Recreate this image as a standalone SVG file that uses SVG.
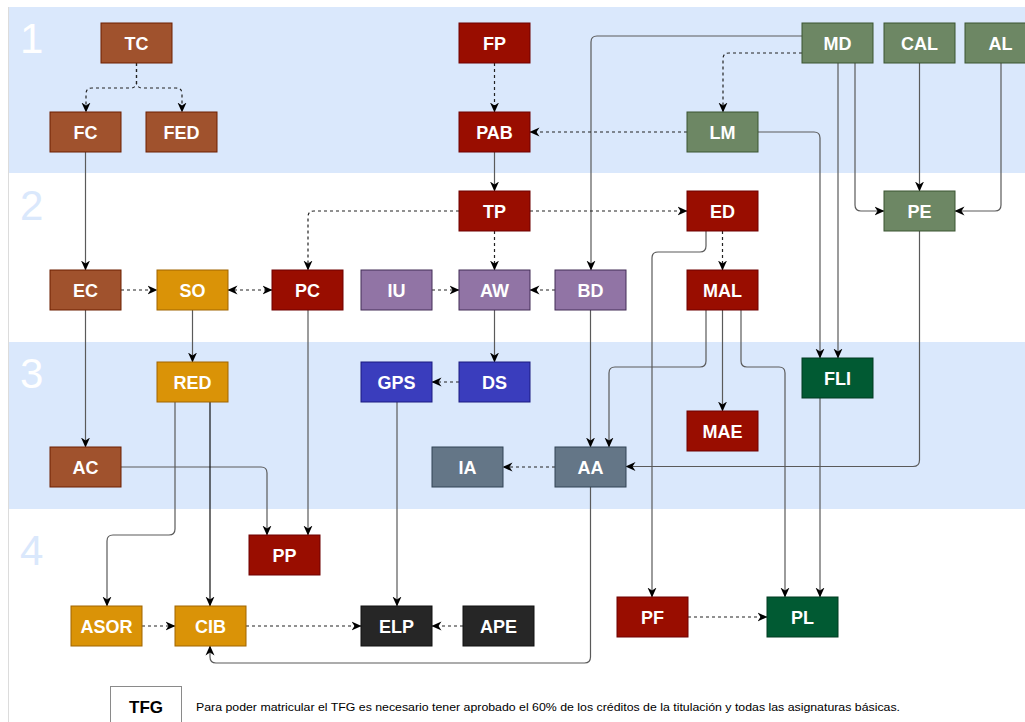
<svg xmlns="http://www.w3.org/2000/svg" width="1025" height="722" viewBox="0 0 1025 722">
<style>
.band{fill:#dae8fc}
.num{font-family:"Liberation Sans",Arial,sans-serif;font-size:42px}
.n rect{stroke-width:1}
.n text{font-family:"Liberation Sans",Arial,sans-serif;font-size:18px;font-weight:bold;fill:#fff;text-anchor:middle}
.br rect{fill:#a0522d;stroke:#6d1f00}
.rd rect{fill:#990d00;stroke:#6f0000}
.or rect{fill:#da9307;stroke:#a06400}
.pu rect{fill:#9174a5;stroke:#432d57}
.bl rect{fill:#3a3dbd;stroke:#1a1a80}
.gb rect{fill:#647687;stroke:#314354}
.gr rect{fill:#6d8764;stroke:#3a5431}
.dg rect{fill:#015a33;stroke:#003a20}
.bk rect{fill:#262626;stroke:#111}
.s{fill:none;stroke:#5a5a5a;stroke-width:1.2;marker-end:url(#a)}
.d{fill:none;stroke:#222;stroke-width:1.2;stroke-dasharray:3 3;marker-end:url(#a)}
</style>
<defs>
<marker id="a" viewBox="0 0 10 10" refX="9.5" refY="5" markerWidth="10" markerHeight="10" markerUnits="userSpaceOnUse" orient="auto-start-reverse"><path d="M0,0.5 L10,5 L0,9.5 L3,5 Z" fill="#000"/></marker>
</defs>
<rect width="1025" height="722" fill="#fff"/>
<g id="bands">
<rect class="band" x="8" y="7" width="1017" height="166"/>
<rect class="band" x="8" y="342" width="1017" height="167"/>
<line x1="8.5" y1="7" x2="8.5" y2="722" stroke="#dcdcdc" stroke-width="1"/>
<text class="num" x="20" y="53" fill="#fff">1</text>
<text class="num" x="20" y="220" fill="#dae8fc">2</text>
<text class="num" x="20" y="388" fill="#fff">3</text>
<text class="num" x="20" y="565" fill="#dae8fc">4</text>
</g>
<g id="connectors">
<path class="d" d="M136.5,63 V82 Q136.5,88 130.5,88 H92 Q86,88 86,94 V112"/>
<path class="d" d="M136.5,63 V82 Q136.5,88 142.5,88 H176 Q182,88 182,94 V112"/>
<path class="s" d="M802,36 H597 Q591,36 591,42 V270"/>
<path class="d" d="M802,53 H729 Q723,53 723,59 V112"/>
<path class="s" d="M758,132 H814 Q820,132 820,138 V358"/>
<path class="s" d="M838,63 V358"/>
<path class="s" d="M855,63 V205 Q855,211 861,211 H884"/>
<path class="s" d="M919.5,63 V191"/>
<path class="s" d="M1001,63 V205 Q1001,211 995,211 H955"/>
<path class="s" d="M919.5,231 V460 Q919.5,466.5 913,466.5 H626"/>
<path class="s" d="M706,231 V246 Q706,252 700,252 H658 Q652,252 652,258 V597"/>
<path class="d" d="M722.5,231 V270"/>
<path class="d" d="M459,211 H314 Q308,211 308,217 V270"/>
<path class="d" d="M530,211 H687"/>
<path class="d" d="M494.5,231 V270"/>
<path class="d" d="M494.5,63 V112"/>
<path class="s" d="M494.5,152 V191"/>
<path class="d" d="M687,132 H530"/>
<path class="s" d="M85.5,152 V270"/>
<path class="d" d="M121,290 H157"/>
<path class="d" d="M228,290 H272" marker-start="url(#a)"/>
<path class="d" d="M432,290 H459"/>
<path class="d" d="M555,290 H530"/>
<path class="s" d="M85.5,310 V447"/>
<path class="s" d="M192.5,310 V362"/>
<path class="s" d="M494.5,310 V362"/>
<path class="d" d="M459,382 H432"/>
<path class="s" d="M590.5,310 V447"/>
<path class="s" d="M706,310 V361 Q706,367 700,367 H615 Q609,367 609,373 V447"/>
<path class="s" d="M722.5,310 V411"/>
<path class="s" d="M741,310 V361 Q741,367 747,367 H779 Q785,367 785,373 V597"/>
<path class="s" d="M820,398 V597"/>
<path class="d" d="M555,467 H503"/>
<path class="s" d="M308,310 V535"/>
<path class="s" d="M121,467 H261 Q267,467 267,473 V535"/>
<path class="s" d="M175,402 V529 Q175,535 169,535 H113 Q107,535 107,541 V606"/>
<path class="s" d="M210,402 V606" style="stroke:#111"/>
<path class="s" d="M397,402 V606"/>
<path class="d" d="M142,626 H175"/>
<path class="d" d="M246,626 H361"/>
<path class="d" d="M463,626 H432"/>
<path class="s" d="M590.5,487 V657 Q590.5,663 584.5,663 H216 Q210,663 210,657 V646"/>
<path class="d" d="M688,617 H767"/>
</g>
<g id="TC" class="n br"><rect x="101" y="23" width="71" height="40"/><text x="136.5" y="49.5">TC</text></g>
<g id="FP" class="n rd"><rect x="459" y="23" width="71" height="40"/><text x="494.5" y="49.5">FP</text></g>
<g id="MD" class="n gr"><rect x="802" y="23" width="71" height="40"/><text x="837.5" y="49.5">MD</text></g>
<g id="CAL" class="n gr"><rect x="884" y="23" width="71" height="40"/><text x="919.5" y="49.5">CAL</text></g>
<g id="AL" class="n gr"><rect x="965" y="23" width="71" height="40"/><text x="1000.5" y="49.5">AL</text></g>
<g id="FC" class="n br"><rect x="50" y="112" width="71" height="40"/><text x="85.5" y="138.5">FC</text></g>
<g id="FED" class="n br"><rect x="146" y="112" width="71" height="40"/><text x="181.5" y="138.5">FED</text></g>
<g id="PAB" class="n rd"><rect x="459" y="112" width="71" height="40"/><text x="494.5" y="138.5">PAB</text></g>
<g id="LM" class="n gr"><rect x="687" y="112" width="71" height="40"/><text x="722.5" y="138.5">LM</text></g>
<g id="TP" class="n rd"><rect x="459" y="191" width="71" height="40"/><text x="494.5" y="217.5">TP</text></g>
<g id="ED" class="n rd"><rect x="687" y="191" width="71" height="40"/><text x="722.5" y="217.5">ED</text></g>
<g id="PE" class="n gr"><rect x="884" y="191" width="71" height="40"/><text x="919.5" y="217.5">PE</text></g>
<g id="EC" class="n br"><rect x="50" y="270" width="71" height="40"/><text x="85.5" y="296.5">EC</text></g>
<g id="SO" class="n or"><rect x="157" y="270" width="71" height="40"/><text x="192.5" y="296.5">SO</text></g>
<g id="PC" class="n rd"><rect x="272" y="270" width="71" height="40"/><text x="307.5" y="296.5">PC</text></g>
<g id="IU" class="n pu"><rect x="361" y="270" width="71" height="40"/><text x="396.5" y="296.5">IU</text></g>
<g id="AW" class="n pu"><rect x="459" y="270" width="71" height="40"/><text x="494.5" y="296.5">AW</text></g>
<g id="BD" class="n pu"><rect x="555" y="270" width="71" height="40"/><text x="590.5" y="296.5">BD</text></g>
<g id="MAL" class="n rd"><rect x="687" y="270" width="71" height="40"/><text x="722.5" y="296.5">MAL</text></g>
<g id="RED" class="n or"><rect x="157" y="362" width="71" height="40"/><text x="192.5" y="388.5">RED</text></g>
<g id="GPS" class="n bl"><rect x="361" y="362" width="71" height="40"/><text x="396.5" y="388.5">GPS</text></g>
<g id="DS" class="n bl"><rect x="459" y="362" width="71" height="40"/><text x="494.5" y="388.5">DS</text></g>
<g id="FLI" class="n dg"><rect x="802" y="358" width="71" height="40"/><text x="837.5" y="384.5">FLI</text></g>
<g id="MAE" class="n rd"><rect x="687" y="411" width="71" height="40"/><text x="722.5" y="437.5">MAE</text></g>
<g id="AC" class="n br"><rect x="50" y="447" width="71" height="40"/><text x="85.5" y="473.5">AC</text></g>
<g id="IA" class="n gb"><rect x="432" y="447" width="71" height="40"/><text x="467.5" y="473.5">IA</text></g>
<g id="AA" class="n gb"><rect x="555" y="447" width="71" height="40"/><text x="590.5" y="473.5">AA</text></g>
<g id="PP" class="n rd"><rect x="249" y="535" width="71" height="40"/><text x="284.5" y="561.5">PP</text></g>
<g id="PF" class="n rd"><rect x="617" y="597" width="71" height="40"/><text x="652.5" y="623.5">PF</text></g>
<g id="PL" class="n dg"><rect x="767" y="597" width="71" height="40"/><text x="802.5" y="623.5">PL</text></g>
<g id="ASOR" class="n or"><rect x="71" y="606" width="71" height="40"/><text x="106.5" y="632.5">ASOR</text></g>
<g id="CIB" class="n or"><rect x="175" y="606" width="71" height="40"/><text x="210.5" y="632.5">CIB</text></g>
<g id="ELP" class="n bk"><rect x="361" y="606" width="71" height="40"/><text x="396.5" y="632.5">ELP</text></g>
<g id="APE" class="n bk"><rect x="463" y="606" width="71" height="40"/><text x="498.5" y="632.5">APE</text></g>
<g id="TFG">
<rect x="110.5" y="686.5" width="71" height="50" fill="#fff" stroke="#8a8a8a" stroke-width="1"/>
<text x="146" y="713" font-family="'Liberation Sans',Arial,sans-serif" font-size="17" font-weight="bold" text-anchor="middle" fill="#000">TFG</text>
<text x="196" y="711" font-family="'Liberation Sans',Arial,sans-serif" font-size="11" fill="#000" textLength="704" lengthAdjust="spacingAndGlyphs">Para poder matricular el TFG es necesario tener aprobado el 60% de los créditos de la titulación y todas las asignaturas básicas.</text>
</g>
</svg>
